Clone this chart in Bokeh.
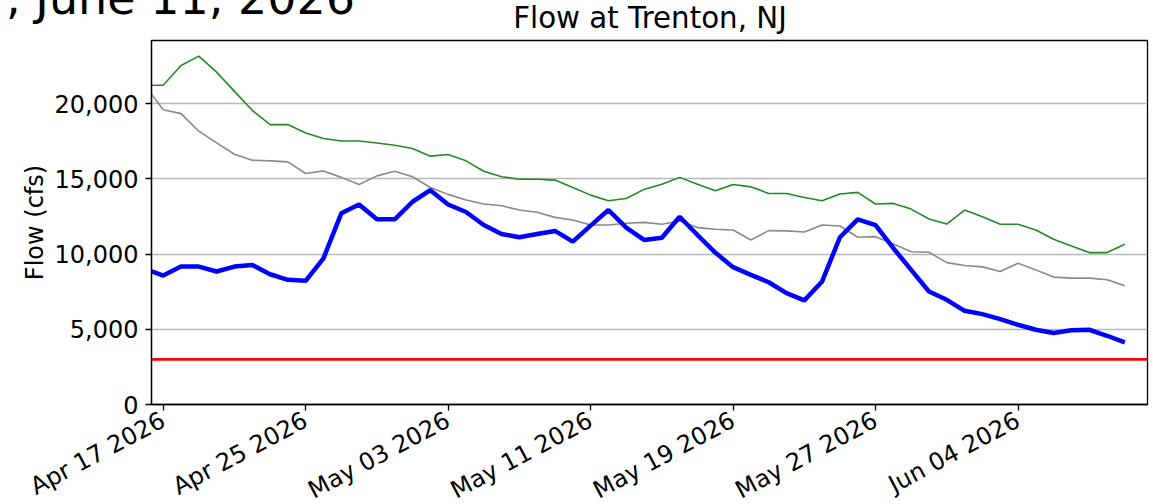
import math
import pandas as pd
from bokeh.plotting import figure
from bokeh.layouts import column
from bokeh.models import (Range1d, FixedTicker, DatetimeTickFormatter,
                          NumeralTickFormatter, Span, Div)
from bokeh.embed import file_html
from bokeh.resources import INLINE

# ---------------- data ----------------
dates = pd.date_range("2026-04-16", "2026-06-10", freq="D")

observed_flow = [
    9000, 8570, 9170, 9170, 8840, 9170, 9280, 8660, 8290, 8220, 9720, 12710, 13300, 12310, 12310,
    13480, 14250, 13300, 12800, 11930, 11340, 11120, 11340, 11540, 10830, 11890, 12930, 11760,
    10940, 11090, 12480, 11270, 10100, 9130, 8620, 8130, 7400, 6920, 8180, 11120, 12310, 11930,
    10390, 8950, 7510, 6960,
    6230, 6010, 5680, 5300, 4970, 4750, 4930, 4970, 4570, 4130,
]
upper_flow = [
    21220, 21220, 22540, 23160, 22100, 20820, 19560, 18610, 18610, 18050, 17680, 17520, 17520, 17390, 17240,
    17020, 16510, 16620, 16200, 15510, 15140, 14980, 14980, 14920, 14430, 13920, 13550, 13700,
    14300, 14650, 15100, 14650, 14210, 14630, 14470, 14030, 14030, 13760, 13550, 13990, 14100,
    13330, 13370, 12990, 12330, 12000,
    12930, 12480, 11980, 11980, 11600, 10990, 10540, 10100, 10100, 10650,
]
median_flow = [
    21170, 19600, 19340, 18170, 17390, 16640, 16240, 16200, 16130, 15360, 15530, 15100, 14630, 15200, 15510,
    15140, 14430, 13970, 13590, 13330, 13210, 12930, 12780, 12440, 12270, 11930, 11930, 12050,
    12110, 11980, 12200, 11760, 11650, 11600, 10940, 11560, 11540, 11470, 11930, 11870, 11120,
    11160, 10670, 10160, 10120, 9430,
    9240, 9150, 8840, 9390, 8950, 8470, 8400, 8400, 8290, 7890,
]
flow_objective = 3000

x_tick_dates = ["2026-04-17", "2026-04-25", "2026-05-03", "2026-05-11",
                "2026-05-19", "2026-05-27", "2026-06-04"]
y_ticks = [0, 5000, 10000, 15000, 20000]

title_text = "Flow at Trenton, NJ"
header_text = ", June 11, 2026"
y_label = "Flow (cfs)"

# ---------------- header (titles) ----------------
FONT = "DejaVu Sans"
header_html = (
    '<div style="position:relative;width:1153px;height:38px;overflow:visible;">'
    f'<span style="position:absolute;right:798px;top:-25px;font-family:\'{FONT}\';'
    f'font-size:46px;line-height:1;white-space:nowrap;color:black;">{header_text}</span>'
    f'<span style="position:absolute;left:650px;top:4.2px;transform:translateX(-50%);'
    f'font-family:\'{FONT}\';font-size:29.3px;line-height:1;white-space:nowrap;color:black;">'
    f'{title_text}</span>'
    '</div>'
)
header = Div(text=header_html, width=1153, height=38,
             styles={"overflow": "visible", "margin": "0", "padding": "0"})

# ---------------- figure ----------------
p = figure(
    width=1153, height=481,
    x_axis_type="datetime",
    x_range=Range1d(pd.Timestamp("2026-04-16 08:14"), pd.Timestamp("2026-06-11 06:30")),
    y_range=Range1d(0, 24200),
    output_backend="svg", toolbar_location=None,
    min_border_left=151, min_border_right=6, min_border_top=2, min_border_bottom=60,
)
p.background_fill_color = "white"
p.border_fill_color = "white"
p.outline_line_color = "black"
p.outline_line_width = 1.3

# lines
p.add_layout(Span(location=flow_objective, dimension="width",
                  line_color="#ff0000", line_width=2.6))
p.line(dates, upper_flow, line_color="#228b22", line_width=1.6)
p.line(dates, median_flow, line_color="#8a8a8a", line_width=1.6)
p.line(dates, observed_flow, line_color="#0000ff", line_width=4.5)

# grid
p.xgrid.visible = False
p.ygrid.ticker = FixedTicker(ticks=y_ticks)
p.ygrid.grid_line_color = "#b8b8b8"
p.ygrid.grid_line_width = 1.5

# x axis
xt = [pd.Timestamp(d).value // 10**6 for d in x_tick_dates]
p.xaxis.ticker = FixedTicker(ticks=xt)
fmt = "%b %d %Y"
p.xaxis.formatter = DatetimeTickFormatter(
    milliseconds=fmt, seconds=fmt, minsec=fmt, minutes=fmt, hourmin=fmt,
    hours=fmt, days=fmt, months=fmt, years=fmt)
p.xaxis.major_label_orientation = math.radians(28)
p.xaxis.minor_tick_line_color = None

# y axis
p.yaxis.ticker = FixedTicker(ticks=y_ticks)
p.yaxis.formatter = NumeralTickFormatter(format="0,0")
p.yaxis.minor_tick_line_color = None
p.yaxis.axis_label = y_label

for ax in (p.xaxis[0], p.yaxis[0]):
    ax.major_tick_out = 6
    ax.major_tick_in = 0
    ax.major_tick_line_color = "black"
    ax.major_tick_line_width = 1.3
    ax.axis_line_color = "black"
    ax.axis_line_width = 1.3
    ax.major_label_text_font = FONT
    ax.major_label_text_font_size = "24px"
    ax.major_label_text_color = "black"
    ax.axis_label_text_font = FONT
    ax.axis_label_text_font_size = "24px"
    ax.axis_label_text_font_style = "normal"
    ax.axis_label_text_color = "black"

p.yaxis.major_label_standoff = 7
p.yaxis.axis_label_standoff = 3
p.xaxis.major_label_standoff = 8

page = column(header, p, spacing=0)

open("out.html", "w").write(file_html(page, INLINE))
